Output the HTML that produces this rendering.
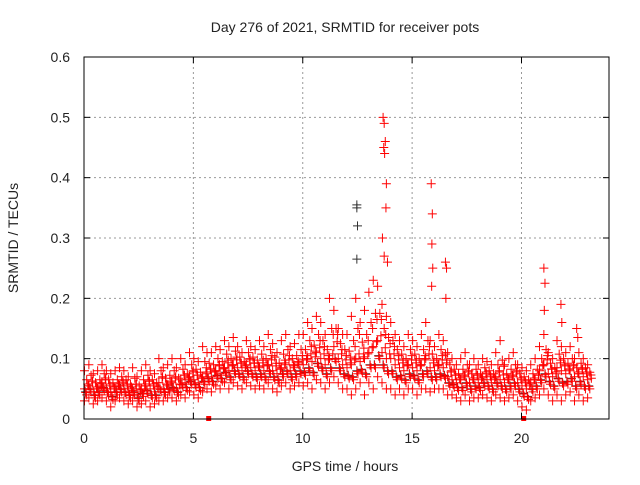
<!DOCTYPE html>
<html><head><meta charset="utf-8"><style>
body{margin:0;background:#fff}
svg text{font-family:"Liberation Sans",sans-serif;font-size:14px;fill:#222}
</style></head><body>
<svg id="c" width="640" height="480">
<text x="345" y="32" text-anchor="middle">Day 276 of 2021, SRMTID for receiver pots</text>
<text x="345" y="471" text-anchor="middle">GPS time / hours</text>
<text transform="translate(18,238) rotate(-90)" text-anchor="middle">SRMTID / TECUs</text>
<g id="grid"></g><g id="bk"></g><g id="pts"></g>
<rect x="84" y="57" width="525" height="362" fill="none" stroke="#000"/>
<g id="ticks"></g>
</svg>
<script>
const xTicks=[0,5,10,15,20];
const yTicks=[0,0.1,0.2,0.3,0.4,0.5,0.6];
const t0=0, dt=0.2;
const mid=[.05,.055,.045,.05,.06,.05,.045,.05,.055,.05,.045,.05,.04,.05,.055,.05,.045,.06,.05,.055,.06,.05,.065,.06,.07,.065,.06,.07,.075,.07,.08,.075,.085,.08,.09,.085,.08,.09,.085,.08,.085,.08,.09,.08,.075,.085,.09,.08,.085,.09,.09,.1,.095,.11,.1,.09,.1,.12,.1,.09,.085,.09,.1,.095,.1,.11,.12,.13,.11,.1,.1,.09,.085,.08,.09,.085,.08,.09,.1,.085,.08,.09,.085,.07,.065,.06,.065,.07,.06,.065,.06,.07,.065,.06,.07,.065,.06,.065,.07,.06,.055,.05,.06,.065,.08,.09,.075,.07,.085,.08,.075,.08,.07,.075,.07,.065];
const lo=[.03,.035,.025,.03,.035,.03,.02,.03,.035,.03,.025,.03,.02,.025,.03,.02,.025,.03,.03,.035,.035,.03,.04,.035,.045,.04,.035,.045,.05,.045,.055,.05,.06,.05,.06,.055,.05,.06,.055,.05,.055,.05,.06,.05,.045,.055,.06,.05,.055,.06,.055,.06,.05,.065,.06,.05,.06,.07,.06,.05,.05,.04,.05,.06,.04,.06,.05,.07,.06,.05,.05,.04,.05,.04,.05,.05,.04,.05,.05,.045,.05,.05,.05,.04,.04,.035,.03,.04,.03,.035,.035,.04,.035,.03,.04,.035,.03,.035,.04,.03,.02,.015,.03,.035,.04,.05,.04,.03,.04,.03,.04,.045,.03,.04,.03,.035];
const hi=[.08,.09,.075,.08,.09,.08,.075,.08,.085,.08,.07,.085,.07,.08,.09,.08,.075,.1,.085,.09,.1,.085,.1,.09,.11,.1,.095,.12,.11,.11,.12,.115,.13,.12,.135,.12,.11,.13,.12,.115,.13,.12,.14,.125,.11,.13,.14,.12,.125,.14,.14,.16,.15,.17,.16,.14,.2,.18,.15,.14,.14,.17,.2,.16,.18,.21,.23,.22,.19,.17,.16,.14,.13,.12,.14,.13,.12,.14,.16,.13,.12,.14,.13,.11,.1,.09,.1,.11,.09,.1,.09,.1,.095,.09,.11,.13,.09,.1,.11,.09,.085,.08,.09,.1,.12,.14,.11,.1,.13,.12,.11,.12,.1,.11,.1,.09];
const spikeT=[12.45,12.45,12.48,12.45,13.65,13.7,13.75,13.72,13.68,13.8,13.78,13.62,13.7,13.85,15.85,15.9,15.88,15.92,15.87,16.5,16.55,16.52,21.0,21.05,21.02,21.78,21.82,22.5,22.55];
const spikeV=[.355,.35,.32,.265,.5,.49,.46,.44,.45,.39,.35,.3,.27,.26,.39,.34,.29,.25,.22,.26,.25,.2,.25,.225,.18,.19,.16,.15,.135];
const markT=[5.7,20.1];
const X=t=>84+t*525/24, Y=v=>419-v*362/0.6;
const NS="http://www.w3.org/2000/svg";
const g=document.getElementById('grid'),tk=document.getElementById('ticks'),p=document.getElementById('pts'),bk=document.getElementById('bk');
function mk(tag,a,par){const e=document.createElementNS(NS,tag);for(const k in a)e.setAttribute(k,a[k]);par.appendChild(e);return e;}
xTicks.forEach(t=>{const x=X(t);
 if(t>0){const l=mk('line',{x1:x,y1:57,x2:x,y2:419,stroke:'#999','stroke-dasharray':'2,3'},g);}
 mk('line',{x1:x,y1:419,x2:x,y2:413,stroke:'#000'},tk);mk('line',{x1:x,y1:57,x2:x,y2:63,stroke:'#000'},tk);
 const s=mk('text',{x:x,y:443,'text-anchor':'middle'},tk);s.textContent=t;
 });
yTicks.forEach(v=>{const y=Y(v);
 if(v>0&&v<0.6){const l=mk('line',{x1:84,y1:y,x2:609,y2:y,stroke:'#999','stroke-dasharray':'2,3'},g);}
 mk('line',{x1:84,y1:y,x2:90,y2:y,stroke:'#000'},tk);mk('line',{x1:609,y1:y,x2:603,y2:y,stroke:'#000'},tk);
 const s=mk('text',{x:70,y:y+5,'text-anchor':'end'},tk);s.textContent=v===0?'0':v.toFixed(1);
 });
function cross(t,v,col,par){const x=X(t),y=Y(v);
 const e=mk('path',{d:`M${x-4} ${y}h9M${x+0.5} ${y-4.5}v9`,stroke:col,'stroke-width':1},par||p);
 }
mid.forEach((m,i)=>{const t=t0+i*dt;
 cross(t+0.05,(m+lo[i])/2+0.005,'#333',bk);
 [lo[i],m,hi[i]].forEach(v=>cross(t,v,'#f00'));
 cross(t+0.1,(lo[i]+m)/2,'#f00');cross(t+0.1,(m+hi[i])/2,'#f00');
 cross(t+0.15,m+0.008,'#f00');cross(t+0.06,(m+lo[i])/2+0.004,'#f00');
 cross(t+0.17,(m+hi[i])/2-0.01,'#f00');});
spikeT.forEach((t,i)=>cross(t,spikeV[i],i<4?'#333':'#f00'));
markT.forEach(t=>{const r=mk('rect',{x:X(t)-2.5,y:416,width:5,height:5,fill:'#f00'},p);});
</script>
</body></html>
